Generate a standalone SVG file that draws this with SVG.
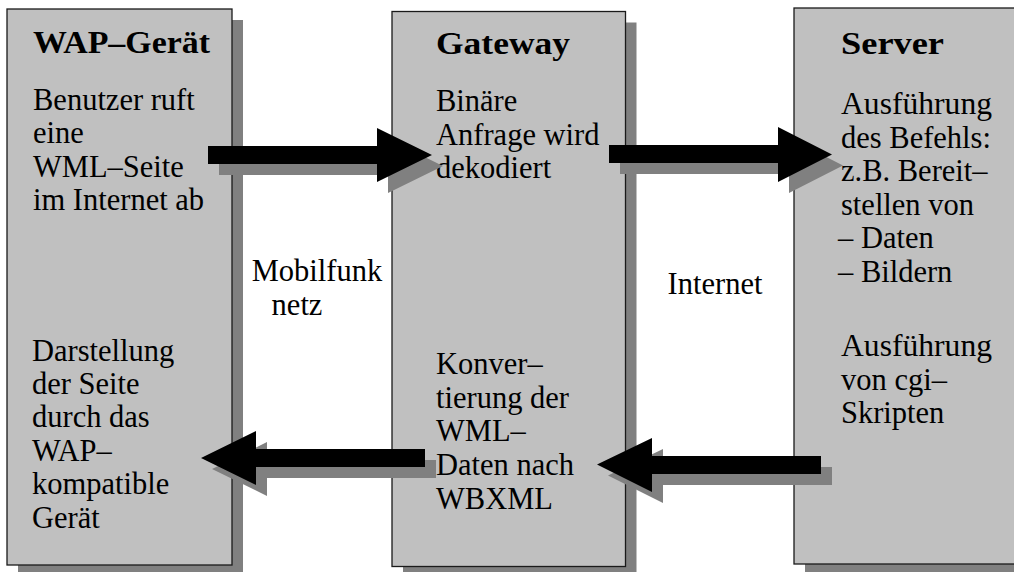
<svg xmlns="http://www.w3.org/2000/svg" width="1014" height="572" viewBox="0 0 1014 572">
  <style>
    .panel { fill: #c0c0c0; stroke: #1a1a1a; stroke-width: 1.3; }
    .shadow { fill: #808080; }
    .arrow { fill: #000000; }
    text { font-family: "Liberation Serif", "Times New Roman", serif; font-size: 30.5px; fill: #000000; }
    .title { font-weight: bold; font-size: 32px; }
  </style>
  <rect width="1014" height="572" fill="#ffffff"/>

  <!-- WAP device -->
  <g id="wap-geraet">
    <rect class="shadow" x="18" y="20" width="225" height="560"/>
    <rect class="panel" x="7" y="9" width="225" height="556"/>
    <text class="title" x="33" y="53" textLength="177" lengthAdjust="spacingAndGlyphs">WAP–Gerät</text>
    <text x="33" y="110">Benutzer ruft</text>
    <text x="33" y="143.4">eine</text>
    <text x="33" y="176.8">WML–Seite</text>
    <text x="33" y="210.2">im Internet ab</text>
    <text x="32" y="360.5">Darstellung</text>
    <text x="32" y="393.9">der Seite</text>
    <text x="32" y="427.3">durch das</text>
    <text x="32" y="460.7">WAP–</text>
    <text x="32" y="494.1">kompatible</text>
    <text x="32" y="527.5">Gerät</text>
  </g>

  <!-- Gateway -->
  <g id="gateway">
    <rect class="shadow" x="403" y="22.5" width="233.5" height="560"/>
    <rect class="panel" x="392" y="11.5" width="233.5" height="555"/>
    <text class="title" x="436" y="54" textLength="134" lengthAdjust="spacingAndGlyphs">Gateway</text>
    <text x="436" y="111">Binäre</text>
    <text x="436" y="144.5">Anfrage wird</text>
    <text x="436" y="178">dekodiert</text>
    <text x="436" y="374">Konver–</text>
    <text x="436" y="407.5">tierung der</text>
    <text x="436" y="441">WML–</text>
    <text x="436" y="475">Daten nach</text>
    <text x="436" y="509">WBXML</text>
  </g>

  <!-- Server -->
  <g id="server">
    <rect class="shadow" x="805" y="19" width="240" height="560"/>
    <rect class="panel" x="794" y="8" width="240" height="556"/>
    <text class="title" x="841" y="53.5" textLength="103" lengthAdjust="spacingAndGlyphs">Server</text>
    <text x="841" y="114" textLength="151" lengthAdjust="spacingAndGlyphs">Ausführung</text>
    <text x="841" y="147.5">des Befehls:</text>
    <text x="841" y="181">z.B. Bereit–</text>
    <text x="841" y="214.5">stellen von</text>
    <text x="838" y="248">– Daten</text>
    <text x="838" y="281.5">– Bildern</text>
    <text x="841" y="356" textLength="151" lengthAdjust="spacingAndGlyphs">Ausführung</text>
    <text x="841" y="389.5">von cgi–</text>
    <text x="841" y="423">Skripten</text>
  </g>

  <!-- Link labels -->
  <g id="mobilfunknetz">
    <text x="317" y="281" text-anchor="middle">Mobilfunk</text>
    <text x="297" y="315" text-anchor="middle">netz</text>
  </g>
  <g id="internet">
    <text x="715" y="294" text-anchor="middle">Internet</text>
  </g>

  <!-- Block arrows with drop shadows -->
  <g id="connectors">
    <g id="request-to-gateway">
      <polygon class="shadow" transform="translate(11,11)" points="208,146 377,146 377,128 432,155 377,182 377,164 208,164"/>
      <polygon class="arrow" points="208,146 377,146 377,128 432,155 377,182 377,164 208,164"/>
    </g>
    <g id="request-to-server">
      <polygon class="shadow" transform="translate(11,11)" points="609,145 778,145 778,127 832,154.5 778,182 778,163 609,163"/>
      <polygon class="arrow" points="609,145 778,145 778,127 832,154.5 778,182 778,163 609,163"/>
    </g>
    <g id="response-to-wap">
      <polygon class="shadow" transform="translate(11,11)" points="425,449 256,449 256,431 201,458 256,485 256,467 425,467"/>
      <polygon class="arrow" points="425,449 256,449 256,431 201,458 256,485 256,467 425,467"/>
    </g>
    <g id="response-to-gateway">
      <polygon class="shadow" transform="translate(11,11)" points="821,456 652,456 652,438 597,464.5 652,492 652,474 821,474"/>
      <polygon class="arrow" points="821,456 652,456 652,438 597,464.5 652,492 652,474 821,474"/>
    </g>
  </g>
</svg>
